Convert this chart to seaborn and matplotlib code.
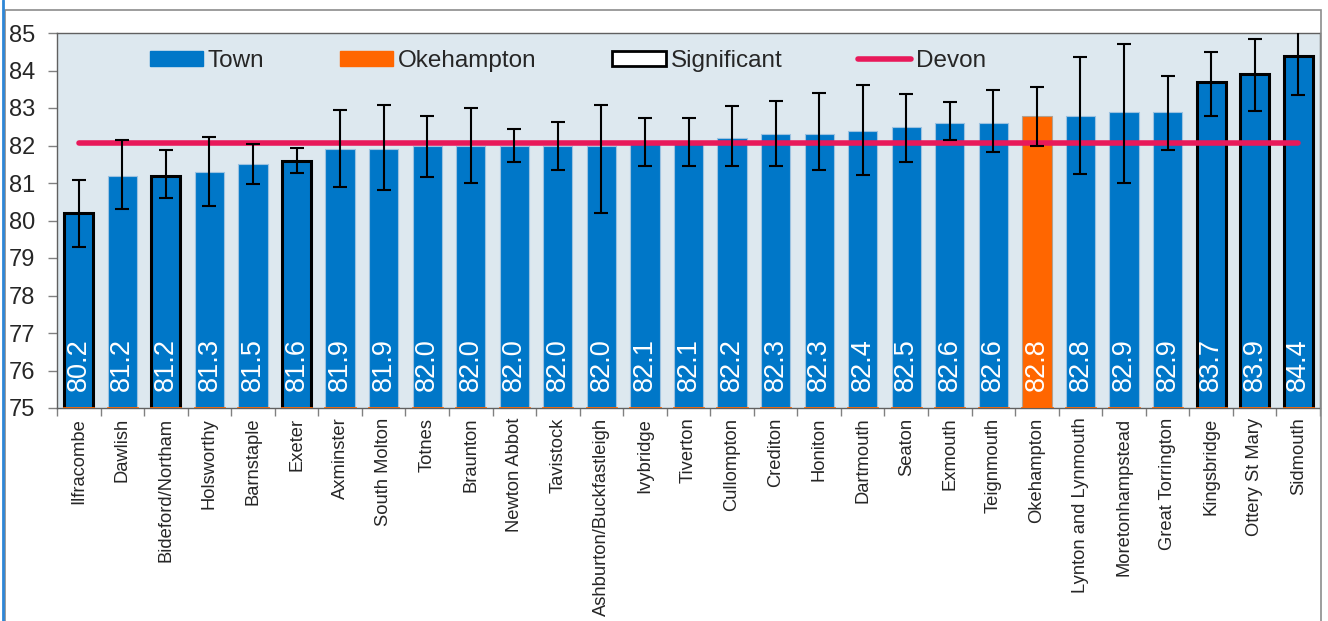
import numpy as np
import pandas as pd
import matplotlib as mpl
mpl.use("Agg")
import matplotlib.pyplot as plt
import seaborn as sns
from matplotlib.patches import Patch, Rectangle
from matplotlib.lines import Line2D

towns = ["Ilfracombe", "Dawlish", "Bideford/Northam", "Holsworthy", "Barnstaple", "Exeter",
         "Axminster", "South Molton", "Totnes", "Braunton", "Newton Abbot", "Tavistock",
         "Ashburton/Buckfastleigh", "Ivybridge", "Tiverton", "Cullompton", "Crediton",
         "Honiton", "Dartmouth", "Seaton", "Exmouth", "Teignmouth", "Okehampton",
         "Lynton and Lynmouth", "Moretonhampstead", "Great Torrington", "Kingsbridge",
         "Ottery St Mary", "Sidmouth"]
life_exp = [80.2, 81.2, 81.2, 81.3, 81.5, 81.6, 81.9, 81.9, 82.0, 82.0, 82.0, 82.0, 82.0,
            82.1, 82.1, 82.2, 82.3, 82.3, 82.4, 82.5, 82.6, 82.6, 82.8, 82.8, 82.9, 82.9,
            83.7, 83.9, 84.4]
ci_low = [79.29, 80.31, 80.6, 80.39, 80.97, 81.27, 80.9, 80.81, 81.16, 81.0, 81.56, 81.35,
          80.2, 81.45, 81.45, 81.45, 81.45, 81.35, 81.21, 81.56, 82.15, 81.83, 81.99,
          81.23, 81.0, 81.88, 82.8, 82.93, 83.35]
ci_high = [81.08, 82.15, 81.88, 82.23, 82.05, 81.93, 82.95, 83.07, 82.79, 83.0, 82.44, 82.63,
           83.08, 82.73, 82.73, 83.05, 83.19, 83.4, 83.61, 83.37, 83.16, 83.47, 83.56,
           84.37, 84.71, 83.85, 84.5, 84.84, 85.4]
significant = ["Ilfracombe", "Bideford/Northam", "Exeter", "Kingsbridge", "Ottery St Mary", "Sidmouth"]
highlight = "Okehampton"
devon = 82.08

blue = "#0077C8"
orange = "#FF6600"
red = "#E8195A"

df = pd.DataFrame({"town": towns, "value": life_exp})

sns.set_style("white")
plt.rcParams["font.family"] = ["Liberation Sans", "DejaVu Sans"]

fig = plt.figure(figsize=(13.28, 6.21), dpi=100)
ax = fig.add_axes([57 / 1328, 1 - 408 / 621, 1263 / 1328, 375 / 621])
ax.set_facecolor("#DDE8EF")

sns.barplot(data=df, x="town", y="value", color=blue, width=0.67, ax=ax, zorder=2)
for i, p in enumerate(ax.patches):
    t = towns[i]
    p.set_facecolor(orange if t == highlight else blue)
    p.set_alpha(1)
    if t in significant:
        p.set_edgecolor("black")
        p.set_linewidth(2.2)
    else:
        p.set_edgecolor("#9CC2E0" if t != highlight else "#B0A090")
        p.set_linewidth(0.8)

# orange baseline edge (empty series) like the original spreadsheet chart
sns.barplot(x=towns, y=[75] * len(towns), fill=False, edgecolor=orange, linewidth=2,
            width=0.67, ax=ax, zorder=3)

xs = np.arange(len(towns))
vals = np.array(life_exp)
yerr = [vals - np.array(ci_low), np.array(ci_high) - vals]
ax.errorbar(xs, vals, yerr=yerr, fmt="none", ecolor="black", elinewidth=1.5,
            capsize=5, capthick=1.5, zorder=5)

ax.plot(xs, [devon] * len(towns), color=red, lw=4, solid_capstyle="round", zorder=4)

for i, v in enumerate(life_exp):
    ax.text(i, 75.45, f"{v:.1f}", rotation=90, ha="center", va="bottom",
            color="white", fontsize=19.5, zorder=6)

ax.set_ylim(75, 85)
ax.set_xlim(-0.5, len(towns) - 0.5)
ax.set_yticks(range(75, 86))
ax.tick_params(axis="y", labelsize=17, length=6.5, width=1, color="#808080", direction="out", pad=9, left=True)
ax.set_xticks(xs)
ax.set_xticklabels(towns, rotation=90, fontsize=13.2)
ax.set_xticks(np.arange(-0.5, len(towns), 1), minor=True)
ax.tick_params(axis="x", which="major", length=0, pad=7)
ax.tick_params(axis="x", which="minor", length=6, width=1, color="#808080", bottom=True)
ax.set_xlabel("")
ax.set_ylabel("")
for s in ax.spines.values():
    s.set_color("#606060")
    s.set_linewidth(1)

handles = [Patch(facecolor=blue, edgecolor=blue),
           Patch(facecolor=orange, edgecolor=orange),
           Patch(facecolor="white", edgecolor="black", linewidth=2),
           Line2D([0], [0], color=red, lw=4, solid_capstyle="round")]
ax.legend(handles, ["Town", "Okehampton", "Significant", "Devon"], ncol=4, frameon=False,
          loc="center left", bbox_to_anchor=(0.056, 0.925), fontsize=17.5,
          handlelength=2.2, handleheight=0.55, handletextpad=0.2, columnspacing=3.1)

# outer chart frame
fig.patches.append(Rectangle((5 / 1328, -0.1), 1316 / 1328, 1.1 - 10 / 621,
                             transform=fig.transFigure, fill=False, edgecolor="#8C8C8C", lw=1.2))
fig.lines.append(Line2D([2.5 / 1328, 2.5 / 1328], [0, 1], transform=fig.transFigure,
                        color="#2E86D6", lw=2))

fig.savefig("out.png", dpi=100)
